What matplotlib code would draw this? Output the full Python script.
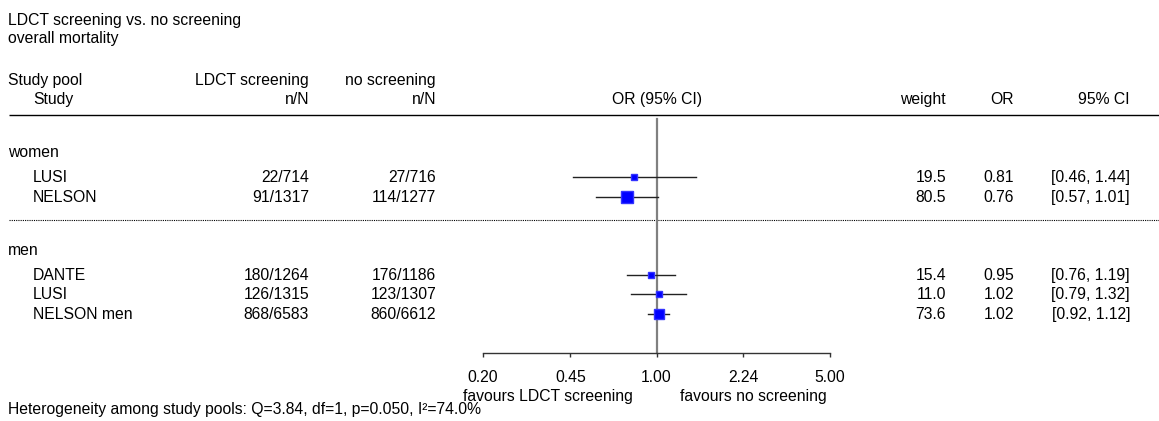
import numpy as np
import matplotlib
matplotlib.use("Agg")
import matplotlib.pyplot as plt
import matplotlib.transforms as mtransforms

plt.rcParams['font.family'] = ['Liberation Sans', 'DejaVu Sans']
plt.rcParams['font.size'] = 11.3

# data
groups = ['women', 'men']
studies = [['LUSI', 'NELSON'], ['DANTE', 'LUSI', 'NELSON men']]
ldct = [['22/714', '91/1317'], ['180/1264', '126/1315', '868/6583']]
noscr = [['27/716', '114/1277'], ['176/1186', '123/1307', '860/6612']]
odds = [[0.81, 0.76], [0.95, 1.02, 1.02]]
ci_lo = [[0.46, 0.57], [0.76, 0.79, 0.92]]
ci_hi = [[1.44, 1.01], [1.19, 1.32, 1.12]]
weights = [[19.5, 80.5], [15.4, 11.0, 73.6]]
ticks = [0.20, 0.45, 1.00, 2.24, 5.00]
title = ['LDCT screening vs. no screening', 'overall mortality']
footer = 'Heterogeneity among study pools: Q=3.84, df=1, p=0.050, I\u00b2=74.0%'

W, H = 1159, 421
fig = plt.figure(figsize=(W / 100, H / 100), dpi=100)

# row layout (row units, top to bottom)
ytop, ybot = -1.026, 20.56
group_rows = [6.77, 11.8]
study_rows = [[8.05, 9.08], [13.08, 14.05, 15.08]]
axis_row = 17.08

# text layer in pixel-x / row-y coords
tax = fig.add_axes([0, 0, 1, 1])
tax.set_xlim(0, W)
tax.set_ylim(ybot, ytop)
tax.axis('off')

# forest panel
fx0, fx1 = 483, 830
ax = fig.add_axes([fx0 / W, 0, (fx1 - fx0) / W, 1])
ax.set_xscale('log')
ax.set_xlim(0.2, 5)
ax.set_ylim(ybot, ytop)
ax.patch.set_alpha(0)
for s in ['top', 'left', 'right']:
    ax.spines[s].set_visible(False)
ax.spines['bottom'].set_position(('data', axis_row))
ax.spines['bottom'].set_color('#333333')
ax.spines['bottom'].set_linewidth(1.0)
ax.set_yticks([])
ax.set_xticks(ticks)
ax.set_xticklabels(['%.2f' % t for t in ticks])
ax.minorticks_off()
ax.tick_params(axis='x', direction='out', length=3, width=1, color='#333333', pad=9.5, labelsize=11.3)

# titles
tax.text(8, 0, title[0], ha='left', va='center')
tax.text(8, 0.97, title[1], ha='left', va='center')

# headers
hdr1, hdr2 = 3.08, 4.1
tax.text(8, hdr1, 'Study pool', ha='left', va='center')
tax.text(33, hdr2, 'Study', ha='left', va='center')
tax.text(309, hdr1, 'LDCT screening', ha='right', va='center')
tax.text(309, hdr2, 'n/N', ha='right', va='center')
tax.text(436, hdr1, 'no screening', ha='right', va='center')
tax.text(436, hdr2, 'n/N', ha='right', va='center')
ax.text(1.0, hdr2, 'OR (95% CI)', ha='center', va='center')
tax.text(946, hdr2, 'weight', ha='right', va='center')
tax.text(1014, hdr2, 'OR', ha='right', va='center')
tax.text(1130, hdr2, '95% CI', ha='right', va='center')

tax.plot([9, W], [4.87, 4.87], color='black', lw=1.0, solid_capstyle='butt')
tax.plot([9, W], [10.26, 10.26], color='black', lw=0.8, ls=(0, (1, 1)))

# reference line
ax.plot([1.0, 1.0], [5.08, axis_row], color='#808080', lw=1.6, zorder=1)

for g in range(len(groups)):
    tax.text(8, group_rows[g], groups[g], ha='left', va='center')
    for i in range(len(studies[g])):
        y = study_rows[g][i]
        tax.text(33, y, studies[g][i], ha='left', va='center')
        tax.text(309, y, ldct[g][i], ha='right', va='center')
        tax.text(436, y, noscr[g][i], ha='right', va='center')
        tax.text(946, y, '%.1f' % weights[g][i], ha='right', va='center')
        tax.text(1014, y, '%.2f' % odds[g][i], ha='right', va='center')
        tax.text(1130, y, '[%.2f, %.2f]' % (ci_lo[g][i], ci_hi[g][i]), ha='right', va='center')
        ax.plot([ci_lo[g][i], ci_hi[g][i]], [y, y], color='#222222', lw=1.0, zorder=2)
        # square size grows with study weight
        ax.plot(odds[g][i], y, marker='s', color='#0000ff', mec='#3333ff',
                ms=1.0 + 0.8 * np.sqrt(weights[g][i]), zorder=3, ls='none')

# favours labels
off = 24 / 100
left_tr = ax.get_xaxis_transform() + mtransforms.ScaledTranslation(-off, 0, fig.dpi_scale_trans)
right_tr = ax.get_xaxis_transform() + mtransforms.ScaledTranslation(off, 0, fig.dpi_scale_trans)
fav_y = 1 - (19.32 - ytop) / (ybot - ytop)
ax.text(1.0, fav_y, 'favours LDCT screening', transform=left_tr, ha='right', va='center')
ax.text(1.0, fav_y, 'favours no screening', transform=right_tr, ha='left', va='center')

tax.text(8, 19.95, footer, ha='left', va='center')

fig.savefig('out.png', dpi=100)
